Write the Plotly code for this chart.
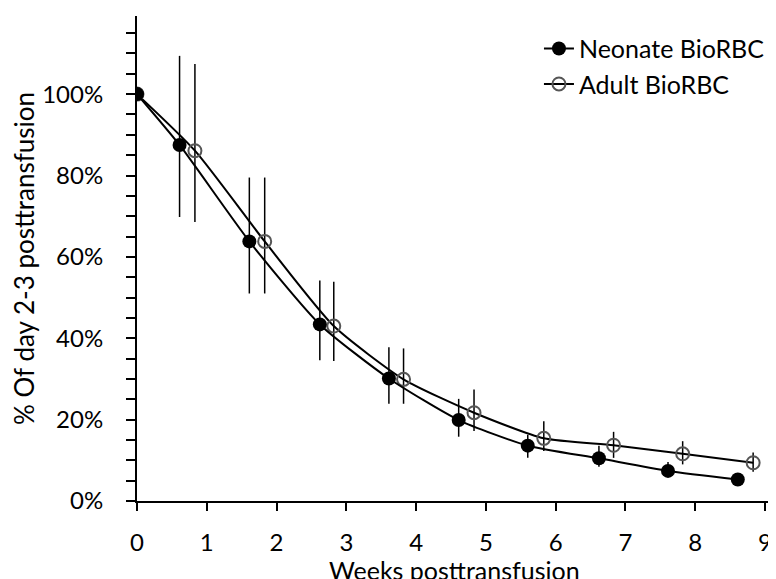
import plotly.graph_objects as go

# Data (percent of day 2-3 posttransfusion)
neo_x = [0, 0.61, 1.61, 2.62, 3.61, 4.61, 5.60, 6.62, 7.61, 8.61]
neo_y = [100, 87.5, 63.8, 43.4, 30.1, 19.9, 13.6, 10.5, 7.4, 5.3]
neo_hi = [100, 109.4, 79.5, 54.2, 37.8, 25.1, 16.3, 13.6, 9.6, 6.5]
neo_lo = [100, 69.8, 51.0, 34.6, 23.9, 15.8, 10.6, 8.4, 6.0, 4.3]

adu_x = [0, 0.83, 1.83, 2.82, 3.82, 4.83, 5.83, 6.83, 7.82, 8.83]
adu_y = [100, 86.1, 63.8, 43.0, 29.9, 21.7, 15.4, 13.7, 11.6, 9.4]
adu_hi = [100, 107.4, 79.5, 53.9, 37.5, 27.4, 19.6, 17.0, 14.7, 11.9]
adu_lo = [100, 68.6, 51.0, 34.4, 23.9, 17.2, 12.3, 10.6, 9.0, 7.2]

x_ticks = [0, 1, 2, 3, 4, 5, 6, 7, 8, 9]
y_tickvals = [i * 5 for i in range(24)]
y_ticktext = [f"{v}%" if v % 20 == 0 and v <= 100 else "" for v in y_tickvals]

FONT = "Lato, 'Open Sans', sans-serif"
TITLE_FONT = dict(family=FONT, size=26, color="black")
XTITLE_FONT = dict(family=FONT, size=25, color="black")
TICK_FONT = dict(family=FONT, size=24, color="black")

fig = go.Figure()

fig.add_trace(go.Scatter(
    x=adu_x, y=adu_y, name="Adult BioRBC", mode="lines+markers", legendgroup="a",
    line=dict(color="black", width=2, shape="spline", smoothing=0.6),
    marker=dict(symbol="circle-open", size=13, color="#555555", line=dict(width=2, color="#555555")),
    error_y=dict(type="data", symmetric=False,
                 array=[h - v for h, v in zip(adu_hi, adu_y)],
                 arrayminus=[v - l for v, l in zip(adu_y, adu_lo)],
                 color="black", thickness=1.5, width=0),
))
fig.add_trace(go.Scatter(
    x=neo_x, y=neo_y, name="Neonate BioRBC", mode="lines+markers", legendgroup="n",
    line=dict(color="black", width=2, shape="spline", smoothing=0.6),
    marker=dict(symbol="circle", size=14, color="black"),
    error_y=dict(type="data", symmetric=False,
                 array=[h - v for h, v in zip(neo_hi, neo_y)],
                 arrayminus=[v - l for v, l in zip(neo_y, neo_lo)],
                 color="black", thickness=1.5, width=0),
))

fig.update_layout(
    width=776, height=579,
    margin=dict(l=129, r=13, t=8, b=86),
    paper_bgcolor="white", plot_bgcolor="white",
    font=dict(family=FONT, size=24, color="black"),
    showlegend=True,
    legend=dict(x=0.634, y=0.98, xanchor="left", yanchor="top",
                traceorder="reversed", bgcolor="rgba(0,0,0,0)",
                font=dict(family=FONT, size=25, color="black"),
                itemwidth=30, tracegroupgap=3),
    annotations=[dict(text="Weeks posttransfusion", xref="paper", yref="paper",
                      x=0.5, y=0, yshift=-69, xanchor="center", yanchor="middle",
                      showarrow=False, font=XTITLE_FONT)],
)
fig.update_xaxes(
    range=[0, 9.086], tickvals=x_ticks, showgrid=False, zeroline=False,
    automargin=False,
    showline=True, linecolor="black", linewidth=2,
    ticks="outside", ticklen=8, tickwidth=2, tickcolor="black",
    ticklabelstandoff=11, tickfont=TICK_FONT,
)
fig.update_yaxes(
    range=[0, 119.2], tickvals=y_tickvals, ticktext=y_ticktext,
    showgrid=False, zeroline=False, automargin=False,
    showline=True, linecolor="black", linewidth=2,
    ticks="outside", ticklen=9, tickwidth=2, tickcolor="black",
    ticklabelstandoff=18, tickfont=TICK_FONT,
    title=dict(text="% Of day 2-3 posttransfusion", standoff=10, font=TITLE_FONT),
)

fig.write_html("out.html")
